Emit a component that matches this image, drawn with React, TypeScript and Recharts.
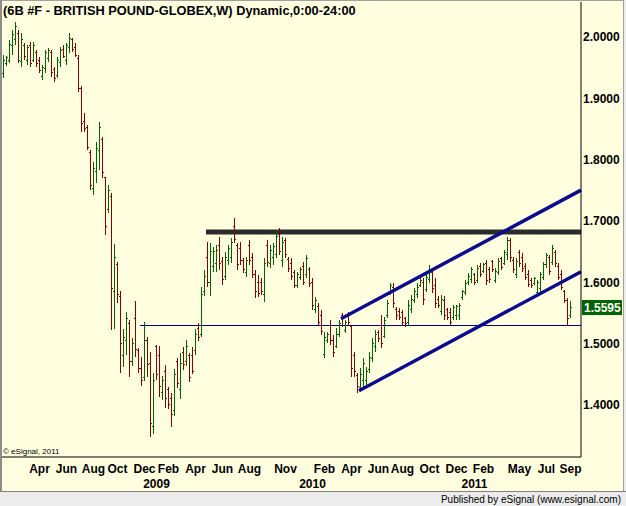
import React from 'react';
import { ComposedChart, Bar, XAxis, YAxis, ReferenceLine, ReferenceArea } from 'recharts';

const FONT = "'Liberation Sans', Arial, Helvetica, sans-serif";
const UP = '#006400';
const DOWN = '#8b0000';
const BG = '#FFFFE0';
const CHANNEL = '#0b0b8f';

// 190 weekly bars plus 3 empty slots up to the right edge of the plot
const weekIndex: number[] = Array.from({ length: 193 }, (_, i) => i);

const opens = [
  1.940, 1.957, 1.962, 1.985, 1.995, 2.005, 1.960, 1.986, 1.962, 1.985,
  1.962, 1.975, 1.962, 1.936, 1.948, 1.965, 1.975, 1.946, 1.937, 1.958,
  1.980, 1.962, 1.982, 1.995, 1.983, 1.965, 1.915, 1.862, 1.852, 1.812,
  1.752, 1.780, 1.815, 1.833, 1.770, 1.718, 1.740, 1.585, 1.628, 1.577,
  1.480, 1.505, 1.533, 1.470, 1.540, 1.488, 1.460, 1.445, 1.505, 1.468,
  1.365, 1.495, 1.480, 1.420, 1.455, 1.425, 1.410, 1.390, 1.470, 1.425,
  1.485, 1.470, 1.480, 1.480, 1.488, 1.525, 1.515, 1.585, 1.640, 1.600,
  1.625, 1.630, 1.660, 1.633, 1.610, 1.635, 1.640, 1.690, 1.660, 1.655,
  1.636, 1.615, 1.660, 1.640, 1.612, 1.600, 1.600, 1.580, 1.660, 1.630,
  1.640, 1.645, 1.678, 1.635, 1.668, 1.637, 1.630, 1.615, 1.595, 1.608,
  1.625, 1.612, 1.620, 1.600, 1.555, 1.560, 1.545, 1.482, 1.505, 1.530,
  1.505, 1.495, 1.515, 1.545, 1.522, 1.545, 1.528, 1.480, 1.448, 1.428,
  1.440, 1.440, 1.458, 1.475, 1.495, 1.518, 1.530, 1.512, 1.545, 1.582,
  1.592, 1.555, 1.552, 1.550, 1.540, 1.535, 1.555, 1.570, 1.580, 1.595,
  1.600, 1.588, 1.605, 1.615, 1.595, 1.572, 1.552, 1.570, 1.555, 1.550,
  1.542, 1.545, 1.545, 1.575, 1.583, 1.600, 1.605, 1.612, 1.603, 1.625,
  1.618, 1.630, 1.620, 1.633, 1.602, 1.615, 1.638, 1.630, 1.645, 1.668,
  1.636, 1.612, 1.648, 1.640, 1.625, 1.612, 1.602, 1.598, 1.583, 1.590,
  1.608, 1.628, 1.640, 1.632, 1.648, 1.625, 1.612, 1.585, 1.570, 1.545,
];

const highs = [
  1.970, 1.969, 1.995, 2.011, 2.024, 2.011, 2.006, 1.990, 1.987, 1.992,
  1.992, 1.979, 1.967, 1.954, 1.979, 1.982, 1.979, 1.951, 1.967, 1.983,
  1.987, 1.990, 2.006, 1.998, 1.990, 1.970, 1.920, 1.876, 1.856, 1.815,
  1.796, 1.829, 1.861, 1.837, 1.772, 1.758, 1.745, 1.663, 1.633, 1.586,
  1.524, 1.551, 1.538, 1.509, 1.569, 1.493, 1.478, 1.535, 1.511, 1.486,
  1.452, 1.498, 1.496, 1.447, 1.465, 1.429, 1.419, 1.459, 1.476, 1.485,
  1.494, 1.506, 1.485, 1.494, 1.524, 1.533, 1.592, 1.620, 1.666, 1.664,
  1.657, 1.661, 1.674, 1.641, 1.649, 1.661, 1.672, 1.705, 1.664, 1.666,
  1.639, 1.641, 1.669, 1.648, 1.620, 1.612, 1.607, 1.639, 1.669, 1.661,
  1.664, 1.685, 1.688, 1.674, 1.672, 1.641, 1.639, 1.620, 1.617, 1.625,
  1.633, 1.644, 1.625, 1.607, 1.576, 1.566, 1.555, 1.519, 1.519, 1.538,
  1.514, 1.525, 1.538, 1.550, 1.538, 1.551, 1.530, 1.486, 1.452, 1.460,
  1.476, 1.462, 1.486, 1.509, 1.522, 1.522, 1.547, 1.543, 1.571, 1.599,
  1.599, 1.560, 1.558, 1.555, 1.543, 1.571, 1.579, 1.591, 1.599, 1.607,
  1.607, 1.615, 1.628, 1.620, 1.607, 1.578, 1.579, 1.578, 1.558, 1.558,
  1.563, 1.563, 1.566, 1.587, 1.604, 1.615, 1.625, 1.615, 1.628, 1.631,
  1.631, 1.636, 1.625, 1.636, 1.623, 1.639, 1.641, 1.652, 1.674, 1.672,
  1.641, 1.639, 1.652, 1.648, 1.631, 1.620, 1.607, 1.609, 1.604, 1.617,
  1.633, 1.648, 1.644, 1.661, 1.652, 1.631, 1.620, 1.587, 1.574, 1.569,
];

const lows = [
  1.933, 1.953, 1.957, 1.970, 1.987, 1.957, 1.951, 1.962, 1.954, 1.951,
  1.959, 1.951, 1.941, 1.930, 1.941, 1.959, 1.934, 1.926, 1.933, 1.951,
  1.965, 1.954, 1.974, 1.975, 1.967, 1.910, 1.845, 1.845, 1.815, 1.750,
  1.742, 1.762, 1.783, 1.770, 1.677, 1.713, 1.522, 1.524, 1.566, 1.452,
  1.462, 1.481, 1.446, 1.463, 1.478, 1.452, 1.431, 1.439, 1.446, 1.348,
  1.353, 1.441, 1.413, 1.408, 1.395, 1.393, 1.364, 1.382, 1.428, 1.410,
  1.457, 1.463, 1.437, 1.450, 1.481, 1.504, 1.511, 1.578, 1.592, 1.578,
  1.617, 1.617, 1.620, 1.596, 1.604, 1.628, 1.631, 1.664, 1.620, 1.628,
  1.615, 1.609, 1.628, 1.607, 1.574, 1.576, 1.579, 1.568, 1.625, 1.623,
  1.628, 1.639, 1.644, 1.625, 1.639, 1.617, 1.604, 1.591, 1.591, 1.604,
  1.596, 1.607, 1.592, 1.555, 1.550, 1.530, 1.514, 1.476, 1.501, 1.498,
  1.478, 1.493, 1.511, 1.527, 1.517, 1.530, 1.446, 1.446, 1.419, 1.424,
  1.429, 1.432, 1.452, 1.470, 1.486, 1.503, 1.493, 1.509, 1.542, 1.579,
  1.558, 1.538, 1.538, 1.530, 1.527, 1.530, 1.550, 1.566, 1.574, 1.592,
  1.563, 1.584, 1.599, 1.582, 1.558, 1.558, 1.547, 1.538, 1.538, 1.530,
  1.538, 1.538, 1.538, 1.571, 1.579, 1.596, 1.599, 1.596, 1.599, 1.609,
  1.615, 1.596, 1.599, 1.617, 1.599, 1.612, 1.620, 1.628, 1.636, 1.633,
  1.615, 1.607, 1.625, 1.617, 1.604, 1.592, 1.591, 1.596, 1.579, 1.584,
  1.604, 1.623, 1.612, 1.628, 1.625, 1.604, 1.587, 1.566, 1.530, 1.542,
];

const closes = [
  1.962, 1.966, 1.988, 2.003, 2.016, 1.962, 1.995, 1.968, 1.982, 1.957,
  1.986, 1.956, 1.945, 1.950, 1.974, 1.978, 1.941, 1.932, 1.962, 1.978,
  1.968, 1.985, 1.998, 1.980, 1.970, 1.916, 1.858, 1.850, 1.820, 1.758,
  1.785, 1.818, 1.852, 1.778, 1.690, 1.750, 1.590, 1.640, 1.580, 1.500,
  1.510, 1.540, 1.470, 1.500, 1.490, 1.460, 1.440, 1.505, 1.465, 1.370,
  1.440, 1.450, 1.430, 1.440, 1.410, 1.400, 1.385, 1.450, 1.435, 1.468,
  1.465, 1.495, 1.445, 1.455, 1.515, 1.510, 1.580, 1.610, 1.600, 1.650,
  1.650, 1.652, 1.630, 1.605, 1.640, 1.655, 1.665, 1.670, 1.628, 1.635,
  1.620, 1.636, 1.635, 1.612, 1.585, 1.582, 1.585, 1.630, 1.632, 1.652,
  1.658, 1.675, 1.650, 1.665, 1.645, 1.622, 1.610, 1.595, 1.612, 1.620,
  1.600, 1.638, 1.598, 1.562, 1.570, 1.535, 1.520, 1.510, 1.515, 1.505,
  1.485, 1.515, 1.532, 1.530, 1.535, 1.535, 1.460, 1.455, 1.430, 1.450,
  1.468, 1.455, 1.478, 1.500, 1.515, 1.508, 1.500, 1.538, 1.565, 1.595,
  1.565, 1.545, 1.542, 1.535, 1.532, 1.562, 1.572, 1.585, 1.592, 1.603,
  1.572, 1.608, 1.620, 1.590, 1.565, 1.562, 1.572, 1.545, 1.542, 1.535,
  1.558, 1.560, 1.562, 1.584, 1.598, 1.610, 1.620, 1.600, 1.622, 1.612,
  1.628, 1.602, 1.605, 1.620, 1.618, 1.634, 1.624, 1.648, 1.668, 1.640,
  1.620, 1.634, 1.630, 1.622, 1.608, 1.596, 1.594, 1.606, 1.600, 1.612,
  1.628, 1.644, 1.618, 1.655, 1.630, 1.608, 1.592, 1.570, 1.540, 1.5595,
];

const monthTickIdx = [12, 21, 30, 38, 47, 55, 64, 73, 82, 94, 107, 116, 125, 133, 142, 151, 160, 172, 181, 189];
const monthTickLabels = ['Apr', 'Jun', 'Aug', 'Oct', 'Dec', 'Feb', 'Apr', 'Jun', 'Aug', 'Nov', 'Feb', 'Apr', 'Jun', 'Aug', 'Oct', 'Dec', 'Feb', 'May', 'Jul', 'Sep'];
const yearTickIdx = [51, 103, 157];
const yearTickLabels = ['2009', '2010', '2011'];
const priceTicks = [1.4, 1.5, 1.6, 1.7, 1.8, 1.9, 2.0];
const lastPrice = 1.5595;

// drawn studies
const resistanceStart = 68;
const resistanceBand = [1.6775, 1.6857];
const supportStart = 46;
const supportBand = [1.5286, 1.5302];
const channelUpper = [{ x: 113, y: 1.5417 }, { x: 192, y: 1.7487 }];
const channelLower = [{ x: 119, y: 1.4243 }, { x: 192, y: 1.6157 }];

const data = weekIndex.map((i) =>
  i < highs.length
    ? { i, open: opens[i], high: highs[i], low: lows[i], close: closes[i] }
    : { i }
);

const rangeKey = (d: any) => (d.high === undefined ? undefined : [d.low, d.high]);

const OhlcShape = (props: any) => {
  const { x, y, width, height, payload } = props;
  if (!payload || payload.high === undefined) return null;
  const lx = Math.round(x + width / 2 - 0.5);
  const top = Math.min(y, y + height);
  const h = Math.abs(height);
  const span = payload.high - payload.low;
  const yOf = (v: number) => top + (span > 0 ? ((payload.high - v) / span) * h : 0);
  const color = payload.close >= payload.open ? UP : DOWN;
  const yo = Math.round(yOf(payload.open) - 0.5);
  const yc = Math.round(yOf(payload.close) - 0.5);
  const yt = Math.round(top);
  const hb = Math.max(Math.round(top + h) - yt, 1);
  return (
    <g shapeRendering="crispEdges">
      <rect x={lx} y={yt} width={1} height={hb} fill={color} />
      <rect x={lx - 1} y={yo} width={1} height={1} fill={color} />
      <rect x={lx + 1} y={yc} width={1} height={1} fill={color} />
    </g>
  );
};

const PriceTick = (props: any) => {
  const { x, y, payload } = props;
  const v = payload.value as number;
  if (Math.abs(v - lastPrice) < 1e-9) {
    return (
      <g>
        <rect x={x - 1} y={y - 7} width={40} height={15} fill="#006400" />
        <text x={x + 1} y={y + 4.5} fill="#ffffff" fontFamily={FONT} fontWeight="bold" fontSize={12}>
          {v.toFixed(4)}
        </text>
      </g>
    );
  }
  return (
    <text x={x} y={y + 4.5} fill="#000000" fontFamily={FONT} fontWeight="bold" fontSize={12}>
      {v.toFixed(4)}
    </text>
  );
};

const MonthTick = (props: any) => {
  const { x, y, payload } = props;
  const k = monthTickIdx.indexOf(payload.value);
  if (k < 0) return null;
  return (
    <text x={x} y={y + 16} textAnchor="middle" fill="#000000" fontFamily={FONT} fontWeight="bold" fontSize={12}>
      {monthTickLabels[k]}
    </text>
  );
};

const YearTick = (props: any) => {
  const { x, y, payload } = props;
  const k = yearTickIdx.indexOf(payload.value);
  if (k < 0) return null;
  return (
    <text x={x} y={y + 11} textAnchor="middle" fill="#000000" fontFamily={FONT} fontWeight="bold" fontSize={12}>
      {yearTickLabels[k]}
    </text>
  );
};

export default function App() {
  return (
    <div style={{ position: 'absolute', left: 0, top: 0, width: 626, height: 506, background: BG, overflow: 'hidden' }}>
      <ComposedChart width={626} height={506} data={data} margin={{ top: 2, right: 0, bottom: 14, left: 2 }}>
        <XAxis
          dataKey="i"
          type="category"
          ticks={monthTickIdx}
          interval={0}
          tickSize={0}
          tickMargin={0}
          height={20}
          axisLine={{ stroke: '#000000' }}
          tickLine={false}
          tick={(p: any) => <MonthTick {...p} />}
        />
        <XAxis
          xAxisId="year"
          dataKey="i"
          type="category"
          ticks={yearTickIdx}
          interval={0}
          tickSize={0}
          tickMargin={0}
          height={15}
          axisLine={false}
          tickLine={false}
          tick={(p: any) => <YearTick {...p} />}
        />
        <YAxis
          orientation="right"
          type="number"
          width={45}
          domain={[1.315, 2.0567]}
          allowDataOverflow
          ticks={[...priceTicks, lastPrice]}
          interval={0}
          tickSize={0}
          tickMargin={2}
          axisLine={{ stroke: '#000000' }}
          tickLine={false}
          tick={(p: any) => <PriceTick {...p} />}
        />
        <ReferenceArea
          x1={supportStart}
          y1={supportBand[0]}
          y2={supportBand[1]}
          fill="#000080"
          fillOpacity={1}
          stroke="none"
          ifOverflow="visible"
        />
        <ReferenceArea
          x1={resistanceStart}
          y1={resistanceBand[0]}
          y2={resistanceBand[1]}
          fill="#2b2b2b"
          fillOpacity={1}
          stroke="none"
          ifOverflow="visible"
        />
        <ReferenceLine segment={channelUpper} stroke={CHANNEL} strokeWidth={3.5} strokeLinecap="square" ifOverflow="visible" />
        <ReferenceLine segment={channelLower} stroke={CHANNEL} strokeWidth={3.5} strokeLinecap="square" ifOverflow="visible" />
        <Bar dataKey={rangeKey} shape={OhlcShape} isAnimationActive={false} />
      </ComposedChart>
      <svg width={626} height={506} style={{ position: 'absolute', left: 0, top: 0, pointerEvents: 'none' }}>
        <text x={3} y={15} fontFamily={FONT} fontWeight="bold" fontSize={12.8} fill="#000000">
          (6B #F - BRITISH POUND-GLOBEX,W) Dynamic,0:00-24:00
        </text>
        <text x={3} y={454} fontFamily={FONT} fontSize={8} fill="#000000">© eSignal, 2011</text>
        <rect x={0} y={0} width={626} height={1} fill="#a0a0a0" />
        <rect x={0} y={0} width={2} height={492} fill="#8c8c8c" />
        <rect x={623} y={0} width={1} height={492} fill="#a0a0a0" />
        <rect x={624} y={0} width={2} height={492} fill="#ececec" />
        <rect x={0} y={491} width={626} height={1} fill="#808080" />
        <rect x={0} y={492} width={626} height={14} fill="#ececec" />
        <text x={621} y={503} textAnchor="end" fontFamily={FONT} fontSize={10} fill="#000000">
          Published by eSignal (www.esignal.com)
        </text>
      </svg>
    </div>
  );
}
